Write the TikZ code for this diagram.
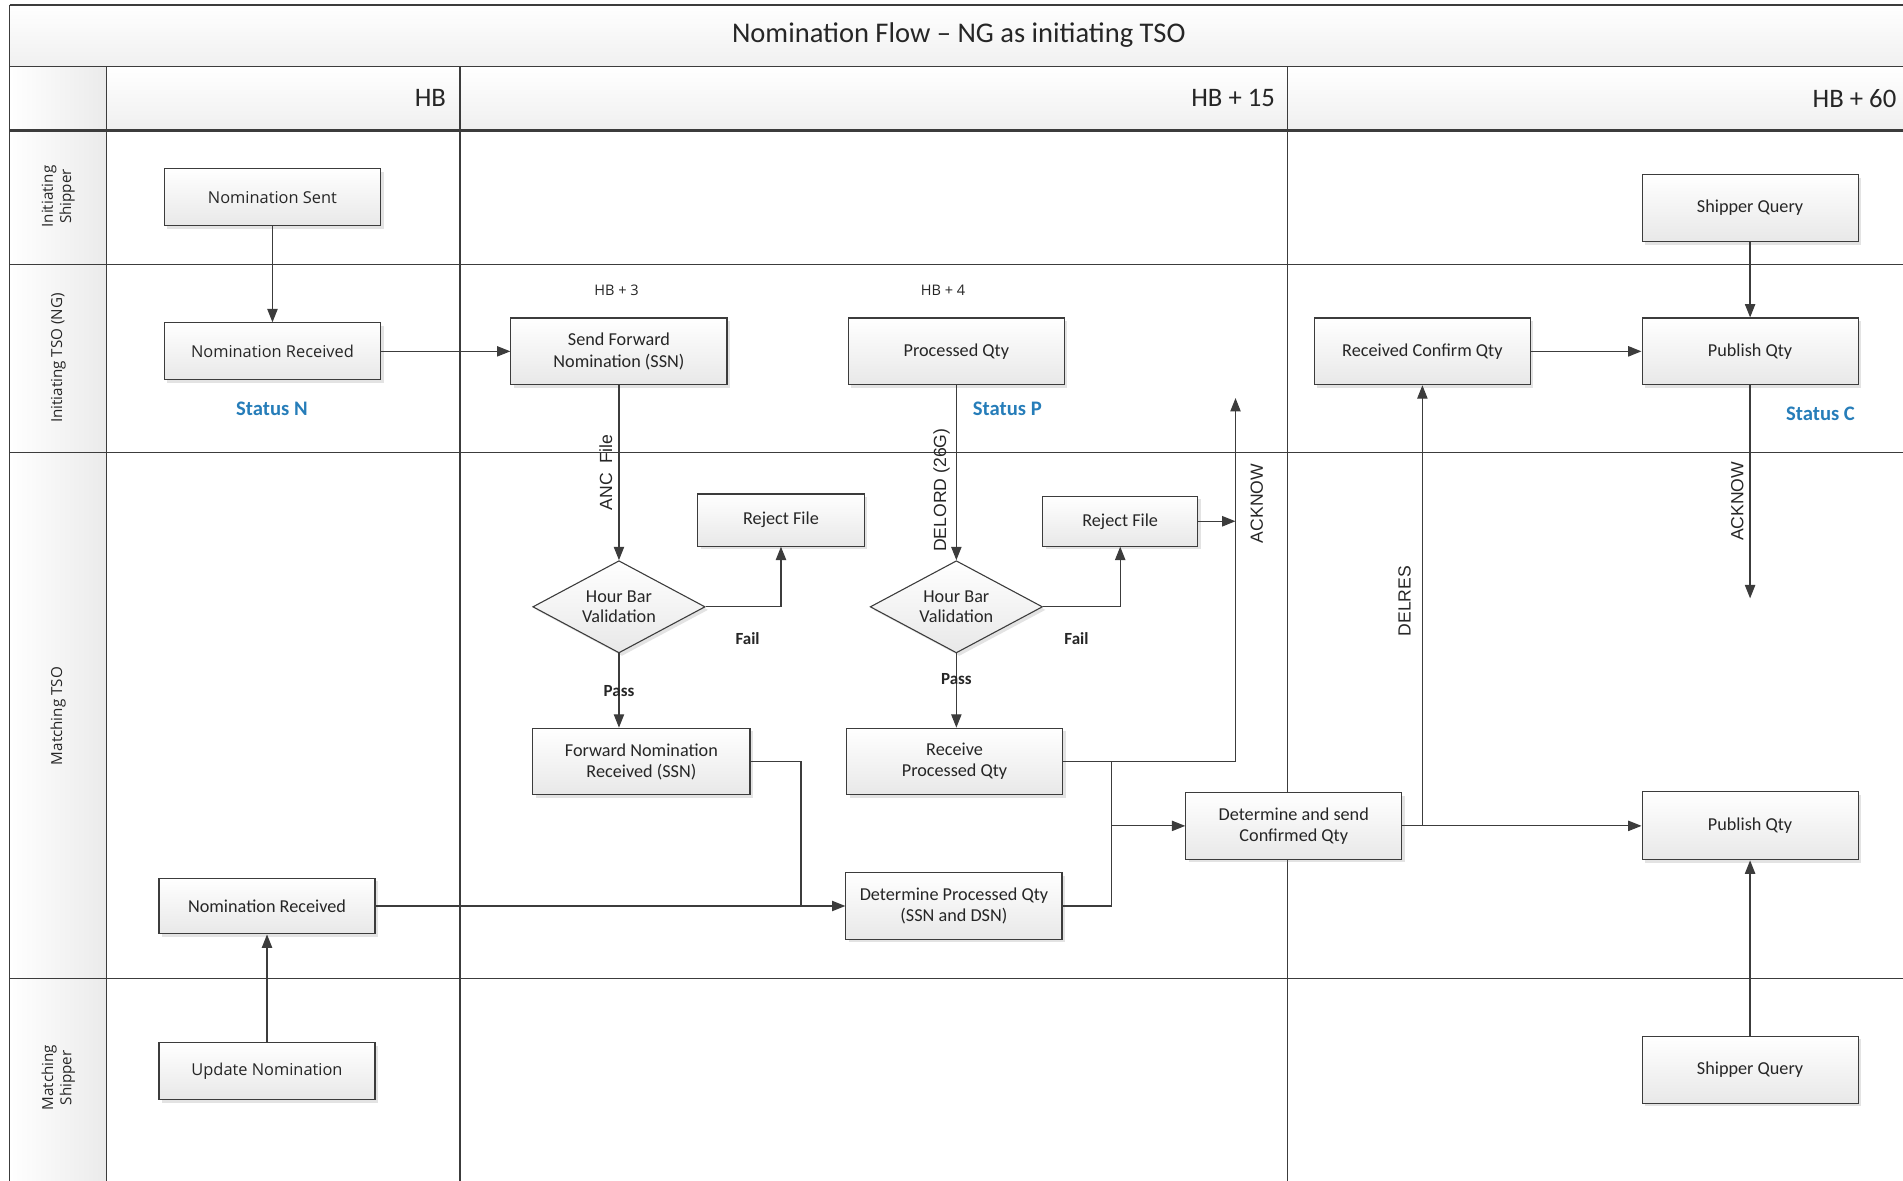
\documentclass[tikz,border=0pt]{standalone}
\usepackage{fontspec}
\setmainfont{Carlito}
\newfontfamily\osans{Open Sans}
\newfontfamily\lsans{Liberation Sans}
\usetikzlibrary{arrows.meta,shapes.geometric,shadows}
\definecolor{stblue}{RGB}{38,125,185}
\definecolor{ln}{RGB}{60,60,60}
\begin{document}
\begin{tikzpicture}[x=1pt,y=-1pt,
  box/.style={draw=ln, line width=0.9pt, top color=white, bottom color=gray!18,
    minimum width=178pt, minimum height=55pt, inner sep=2pt, align=center,
    text=black!85, font=\fontsize{15}{17.5}\selectfont,
    drop shadow={shadow xshift=2.5pt, shadow yshift=-2.5pt, opacity=0.22}},
  obox/.style={box, font=\osans\fontsize{13.5}{16}\selectfont},
  dia/.style={diamond, draw=ln, line width=0.9pt, top color=white, bottom color=gray!18,
    minimum width=142pt, minimum height=76pt, inner sep=0pt, aspect=1.87, align=center,
    text=black!85, font=\fontsize{15}{17}\selectfont,
    drop shadow={shadow xshift=2.5pt, shadow yshift=-2.5pt, opacity=0.22}},
  arr/.style={draw=ln, line width=1pt, -{Triangle[length=11pt,width=8.5pt]}},
  con/.style={draw=ln, line width=1pt},
  rlbl/.style={font=\lsans\fontsize{14.5}{16}\selectfont, rotate=90, text=black!85, inner xsep=2pt, inner ysep=5pt},
  status/.style={font=\bfseries\fontsize{17}{20}\selectfont, text=stblue},
  small/.style={font=\osans\fontsize{12}{14}\selectfont, text=black!85},
  pf/.style={font=\bfseries\fontsize{14}{16}\selectfont, text=black!85},
  lane/.style={font=\osans\fontsize{12.5}{15}\selectfont, rotate=90, align=center, text=black!85},
  hdr/.style={font=\fontsize{22}{26}\selectfont, text=black!85, anchor=east},
  frame/.style={draw=ln, line width=1.1pt}
]
\useasboundingbox (0,0) rectangle (1568,973);
\clip (0,0) rectangle (1568,973);

% ---------- frame / lanes ----------
\shade[top color=white, bottom color=gray!12] (8,4) rectangle (1572,55);
\shade[top color=white, bottom color=gray!12] (8,55) rectangle (1572,107);
\shade[left color=white, right color=gray!16] (8,55) rectangle (88,980);
\foreach \yy in {4,55,107,218,373,806} \draw[frame] (8,\yy) -- (1572,\yy);
\draw[frame] (8,108.5) -- (1572,108.5);
\draw[frame] (8,4) -- (8,980);
\foreach \xx in {88,379,1061} \draw[frame] (\xx,55) -- (\xx,980);

\node[font=\fontsize{23.5}{28}\selectfont, text=black!85] (title) at (790,29) {Nomination Flow -- NG as initiating TSO};
\node[hdr] (h0) at (371,81) {HB};
\node[hdr] (h1) at (1054,81) {HB + 15};
\node[hdr] (h2) at (1566,81) {HB + 60};

\node[lane] (l1) at (48,162) {Initiating\\Shipper};
\node[lane] (l2) at (48,295) {Initiating TSO (NG)};
\node[lane] (l3) at (48,590) {Matching TSO};
\node[lane] (l4) at (48,888) {Matching\\Shipper};

% ---------- nodes ----------
\node[obox, minimum height=47pt] (ns) at (224.5,162.5) {Nomination Sent};
\node[obox, minimum height=47pt] (nr1) at (224.5,289.5) {Nomination Received};
\node[status] (sn) at (224,337) {Status N};
\node[small] (hb3) at (508,239) {HB + 3};
\node[box] (sfn) at (510,289.5) {Send Forward\\Nomination (SSN)};
\node[small] (hb4) at (777,239) {HB + 4};
\node[box] (pq) at (788,289.5) {Processed Qty};
\node[status] (sp) at (830,337) {Status P};
\node[box] (rcq) at (1172,289.5) {Received Confirm Qty};
\node[box] (pub1) at (1442,289.5) {Publish Qty};
\node[box] (sq1) at (1442,171.5) {Shipper Query};
\node[status] (sc) at (1500,341) {Status C};

\node[box, minimum width=137pt, minimum height=43pt] (rf1) at (643.5,428.5) {Reject File};
\node[dia] (hv1) at (510,500) {Hour Bar\\Validation};
\node[pf] (f1) at (616,526) {Fail};
\node[box, minimum width=179pt] (fnr) at (528.5,627.5) {Forward Nomination\\Received (SSN)};

\node[box, minimum width=128pt, minimum height=41pt] (rf2) at (923,429.5) {Reject File};
\node[dia] (hv2) at (788,500) {Hour Bar\\Validation};
\node[pf] (f2) at (887,526) {Fail};
\node[box] (rpq) at (786.5,627.5) {Receive\\Processed Qty};
\node[box] (dpq) at (786,746.5) {Determine Processed Qty\\(SSN and DSN)};
\node[box] (dsc) at (1066,680.5) {Determine and send\\Confirmed Qty};
\node[box, minimum height=56pt] (pub2) at (1442,680.5) {Publish Qty};

\node[box, minimum height=46pt] (nr2) at (220,746.5) {Nomination Received};
\node[obox, minimum height=47pt] (un) at (220,882.5) {Update Nomination};
\node[box] (sq2) at (1442,881.5) {Shipper Query};

\coordinate (ak) at (1018,328);
\coordinate (ak2) at (1442,493);
\coordinate (j1) at (916,680.5);
\coordinate (j2) at (660,746.5);

% ---------- connectors ----------
\draw[arr] (ns) -- (nr1);
\draw[arr] (nr1) -- (sfn);
\draw[arr] (sfn) -- node[rlbl, pos=0.5, anchor=south] {ANC\ \ File} (hv1);
\draw[arr] (hv1.east) -| (rf1.south);
\draw[arr] (hv1.south) -- node[pf, pos=0.5] {Pass} (hv1.south |- fnr.north);
\draw[con] (fnr.east) -| (j2);
\draw[arr] (nr2.east) -- (dpq.west);

\draw[arr] (pq) -- node[rlbl, pos=0.6, anchor=south] {DELORD (26G)} (hv2);
\draw[arr] (hv2.east) -| (rf2.south);
\draw[arr] (hv2.south) -- node[pf, pos=0.34] {Pass} (hv2.south |- rpq.north);
\draw[arr] (rf2.east) -- (rf2.east -| ak);
\draw[con] (rpq.east) -- (rpq.east -| ak);
\draw[arr] (rpq.east -| ak) -- node[rlbl, pos=0.71, anchor=north, inner ysep=12pt] {ACKNOW} (ak);
\draw[con] (rpq.east -| j1) -- (dpq.east -| j1);
\draw[con] (dpq.east) -- (dpq.east -| j1);
\draw[arr] (j1) -- (dsc.west);

\draw[arr] (dsc.east) -- (pub2.west);
\draw[arr] (rcq.south |- dsc.east) -- node[rlbl, pos=0.51, anchor=south, inner ysep=9pt] {DELRES} (rcq.south);
\draw[arr] (rcq.east) -- (pub1.west);
\draw[arr] (sq1) -- (pub1);
\draw[arr] (pub1.south) -- node[rlbl, pos=0.545, anchor=south, inner ysep=5pt] {ACKNOW} (ak2);
\draw[arr] (sq2) -- (pub2);
\draw[arr] (un) -- (nr2);
\end{tikzpicture}
\end{document}
